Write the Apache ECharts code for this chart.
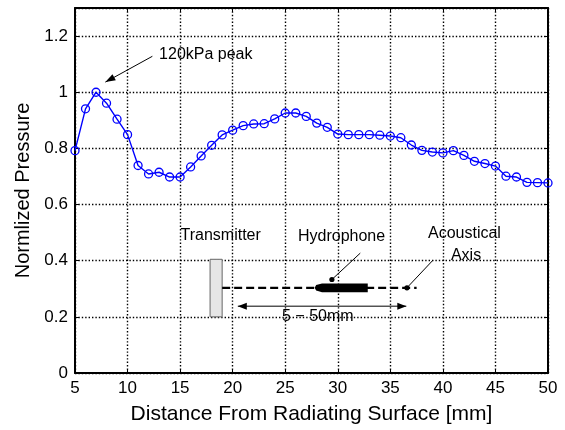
<!DOCTYPE html>
<html>
<head>
<meta charset="utf-8">
<script src="https://cdn.jsdelivr.net/npm/echarts@6/dist/echarts.min.js"></script>
<style>
html, body { margin: 0; padding: 0; background: #fff; }
#chart { width: 565px; height: 430px; }
</style>
</head>
<body>
<div id="chart"></div>
<script>
// distance from radiating surface [mm]
var distance = [5, 6, 7, 8, 9, 10, 11, 12, 13, 14, 15, 16, 17, 18, 19, 20, 21, 22, 23, 24, 25, 26, 27,
    28, 29, 30, 31, 32, 33, 34, 35, 36, 37, 38, 39, 40, 41, 42, 43, 44, 45, 46, 47, 48, 49, 50];
// normalized pressure
var pressure = [0.792, 0.941, 1.0, 0.961, 0.904, 0.849, 0.739, 0.709, 0.715, 0.698, 0.698, 0.734, 0.773,
    0.811, 0.848, 0.865, 0.881, 0.887, 0.888, 0.905, 0.926, 0.926, 0.914, 0.890, 0.875, 0.851, 0.849,
    0.849, 0.849, 0.847, 0.844, 0.838, 0.812, 0.793, 0.787, 0.784, 0.792, 0.775, 0.754, 0.746, 0.737,
    0.701, 0.698, 0.679, 0.678, 0.677];
var xTicks = [5, 10, 15, 20, 25, 30, 35, 40, 45, 50];
var yTicks = [0, 0.2, 0.4, 0.6, 0.8, 1, 1.2];

var FONT = '"Liberation Sans", Arial, sans-serif';
var chart = echarts.init(document.getElementById('chart'));

var axisLine = { show: true, onZero: false, lineStyle: { color: '#000', width: 2 } };
var tick = { show: true, inside: true, length: 4, lineStyle: { color: '#000', width: 1 } };
var grid = { show: true, lineStyle: { color: '#000', width: 1.4, type: [1.4, 2] } };

function xAx(pos, main) {
    return {
        type: 'value', position: pos,
        min: xTicks[0], max: xTicks[xTicks.length - 1], interval: xTicks[1] - xTicks[0],
        axisLine: axisLine, axisTick: tick,
        axisLabel: { show: main, color: '#000', fontSize: 17, fontFamily: FONT, margin: 7 },
        splitLine: main ? grid : { show: false },
        name: main ? 'Distance From Radiating Surface [mm]' : '',
        nameLocation: 'middle', nameGap: 31,
        nameTextStyle: { color: '#000', fontSize: 21, fontFamily: FONT }
    };
}
function yAx(pos, main) {
    return {
        type: 'value', position: pos,
        min: yTicks[0], max: 1.3, interval: yTicks[1] - yTicks[0],
        axisLine: axisLine, axisTick: tick,
        axisLabel: { show: main, color: '#000', fontSize: 17, fontFamily: FONT, margin: 7, showMaxLabel: false },
        splitLine: main ? grid : { show: false },
        name: main ? 'Normlized Pressure' : '',
        nameLocation: 'middle', nameGap: 42,
        nameTextStyle: { color: '#000', fontSize: 20, fontFamily: FONT }
    };
}

chart.setOption({
    animation: false,
    backgroundColor: '#fff',
    grid: { left: 75, right: 17, top: 8, bottom: 53 },
    xAxis: [xAx('bottom', true), xAx('top', false)],
    yAxis: [yAx('left', true), yAx('right', false)],
    series: [{
        type: 'line',
        data: distance.map(function (d, i) { return [d, pressure[i]]; }),
        symbol: 'circle', symbolSize: 8,
        itemStyle: { color: 'rgba(0,0,0,0)', borderColor: '#0000ff', borderWidth: 1.3 },
        lineStyle: { color: '#0000ff', width: 1.4 }
    }]
});

// annotation layout, in data units
function px(x, y) { return chart.convertToPixel({ xAxisIndex: 0, yAxisIndex: 0 }, [x, y]); }

function arrowHead(tip, from, len, half) {
    var dx = tip[0] - from[0], dy = tip[1] - from[1];
    var l = Math.sqrt(dx * dx + dy * dy); dx /= l; dy /= l;
    var bx = tip[0] - dx * len, by = tip[1] - dy * len;
    return {
        type: 'polygon',
        shape: { points: [tip, [bx - dy * half, by + dx * half], [bx + dy * half, by - dx * half]] },
        style: { fill: '#000' }, z: 100
    };
}
function seg(a, b, w, dash) {
    return {
        type: 'line', shape: { x1: a[0], y1: a[1], x2: b[0], y2: b[1] },
        style: { stroke: '#000', lineWidth: w, lineDash: dash || null }, z: 100
    };
}
function label(p, txt, size) {
    return {
        type: 'text', x: p[0], y: p[1], z: 101,
        style: { text: txt, fill: '#000', font: size + 'px ' + FONT, align: 'center', verticalAlign: 'middle' }
    };
}

var g = [];
// 120kPa peak
var pkFrom = px(12.36, 1.128), pkTip = px(7.89, 1.036);
g.push(seg(pkFrom, pkTip, 1));
g.push(arrowHead(pkTip, pkFrom, 10, 3.5));
var pkTxt = px(13.0, 1.135);
g.push({ type: 'text', x: pkTxt[0], y: pkTxt[1], z: 101,
    style: { text: '120kPa peak', fill: '#000', font: '16px ' + FONT, align: 'left', verticalAlign: 'middle' } });

// transmitter
var r0 = px(17.85, 0.405), r1 = px(19.0, 0.2);
g.push({ type: 'rect', z: 100, shape: { x: r0[0], y: r0[1], width: r1[0] - r0[0], height: r1[1] - r0[1] },
    style: { fill: '#e6e6e6', stroke: '#666', lineWidth: 1 } });
// acoustical axis
var axY = 0.3035;
var a0 = px(19.0, axY), a1 = px(37.5, axY);
g.push(seg(a0, a1, 2.2, [8, 4]));
// hydrophone body
var hTip = px(27.8, axY), hFull = px(28.5, axY), hEnd = px(32.85, axY);
var hy = hTip[1], hh = 4.4;
g.push({ type: 'polygon', z: 101, shape: { points: [
    [hTip[0], hy], [hTip[0] + 1.5, hy - 2.8], [hFull[0], hy - hh], [hEnd[0], hy - hh],
    [hEnd[0], hy + hh], [hFull[0], hy + hh], [hTip[0] + 1.5, hy + 2.8]] }, style: { fill: '#000' } });
// hydrophone pointer
var hDot = px(29.44, 0.333), hLead = px(32.14, 0.427);
g.push(seg(hDot, hLead, 1));
g.push({ type: 'circle', z: 102, shape: { cx: hDot[0], cy: hDot[1], r: 2.6 }, style: { fill: '#000' } });
// axis pointer
var aDot = px(36.58, axY), aLead = px(39.06, 0.402);
g.push(seg(aDot, aLead, 1));
g.push({ type: 'circle', z: 102, shape: { cx: aDot[0], cy: aDot[1], r: 2.6 }, style: { fill: '#000' } });
// 5 - 50mm range
var d0 = px(20.49, 0.238), d1 = px(36.52, 0.238);
g.push(seg(d0, d1, 1));
g.push(arrowHead(d0, d1, 9, 3.5));
g.push(arrowHead(d1, d0, 9, 3.5));
g.push(label(px(28.1, 0.2025), '5 \u2212 50mm', 16));
// labels
g.push(label(px(18.86, 0.4885), 'Transmitter', 16));
g.push(label(px(30.36, 0.486), 'Hydrophone', 16));
g.push(label(px(42.05, 0.4966), 'Acoustical', 16));
g.push(label(px(42.2, 0.418), 'Axis', 16));

chart.setOption({ graphic: g });
</script>
</body>
</html>
